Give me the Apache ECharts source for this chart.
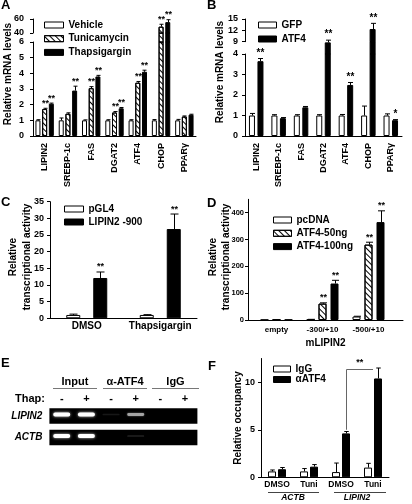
<!DOCTYPE html>
<html><head><meta charset="utf-8">
<script src="https://cdn.jsdelivr.net/npm/echarts@6/dist/echarts.min.js"></script>
<style>html,body{margin:0;padding:0;background:#fff}#c{width:412px;height:504px}</style>
</head><body><div id="c"></div>
<script>
const FONT = '"Liberation Sans", Arial, Helvetica, sans-serif';

// ---------- Panel A data ----------
const aCategories = ['LIPIN2','SREBP-1c','FAS','DGAT2','ATF4','CHOP','PPARγ'];
const aVehicle = [1.0,1.0,1.0,1.0,1.0,1.0,1.0];
const aVehicleErr = [0.04,0.15,0.03,0.04,0.04,0.05,0.06];
const aTunicamycin = [1.72,1.42,3.05,1.5,3.4,49,1.24];
const aTunicamycinErr = [0.05,0.06,0.1,0.06,0.08,3.5,0.04];
const aThapsigargin = [2.06,2.9,3.8,1.77,4.1,55.5,1.36];
const aThapsigarginErr = [0.04,0.28,0.07,0.05,0.1,3.5,0.03];
const aTunicamycinSig = ['**','','**','**','**','**',''];
const aThapsigarginSig = ['**','**','**','**','**','**',''];
const aLowerTicks = [0,1,2,3,4,5,6];
const aUpperTicks = [40,60];

// ---------- Panel B data ----------
const bCategories = ['LIPIN2','SREBP-1c','FAS','DGAT2','ATF4','CHOP','PPARγ'];
const bGFP = [1.0,1.0,1.0,1.0,1.0,1.0,1.0];
const bGFPErr = [0.1,0.04,0.04,0.04,0.05,0.46,0.08];
const bATF4 = [3.65,0.87,1.4,8.73,2.49,12.35,0.77];
const bATF4Err = [0.13,0.03,0.04,0.9,0.12,1.5,0.03];
const bATF4Sig = ['**','','','**','**','**','*'];
const bLowerTicks = [0,1,2,3,4];
const bUpperTicks = [9,12,15];

// ---------- Panel C data ----------
const cCategories = ['DMSO','Thapsigargin'];
const cPGL4 = [1.0,1.0];
const cPGL4Err = [0.25,0.1];
const cLIPIN2 = [12.1,26.8];
const cLIPIN2Err = [1.8,4.5];
const cLIPIN2Sig = ['**','**'];
const cTicks = [0,5,10,15,20,25,30,35];

// ---------- Panel D data ----------
const dCategories = ['empty','-300/+10','-500/+10'];
const dPcDNA = [1,2,13];
const dPcDNAErr = [0,0.5,1];
const dATF4_50 = [1,61,281];
const dATF4_50Err = [0,3,9];
const dATF4_50Sig = ['','**','**'];
const dATF4_100 = [1.5,136,365];
const dATF4_100Err = [0,12,42];
const dATF4_100Sig = ['','**','**'];
const dTicks = [0,100,200,300,400];

// ---------- Panel E data (gel) ----------
const gelGroups = ['Input','α-ATF4','IgG'];
const gelLanes = ['-','+','-','+','-','+'];
const gelRows = ['LIPIN2','ACTB'];
const gelLIPIN2 = [1.0,1.0,0.04,0.55,0,0];
const gelACTB = [1.0,1.0,0,0.06,0,0];

// ---------- Panel F data ----------
const fCategories = ['DMSO','Tuni','DMSO','Tuni'];
const fGroups = ['ACTB','LIPIN2'];
const fIgG = [0.62,0.62,0.55,1.02];
const fIgGErr = [0.15,0.3,0.95,0.45];
const fATF4 = [0.85,1.12,4.62,10.4];
const fATF4Err = [0.18,0.22,0.2,1.1];
const fTicks = [0,5,10];
const fBracket = {from:2, to:3, top:11.4, base:5.0, label:'**'};

// ---------- helpers ----------
const T = (size, extra) => Object.assign({color:'#000', fontFamily:FONT, fontWeight:'bold', fontSize:size}, extra||{});
const option = {animation:false, backgroundColor:'#fff', grid:[], xAxis:[], yAxis:[], series:[], legend:[], graphic:[]};
function push(arr, o){ arr.push(o); return arr.length-1; }
function grid(left, top, width, height){ return push(option.grid, {left, top, width, height, containLabel:false}); }
function yVal(gi, min, max, ticks, margin, fs, extra){
  return push(option.yAxis, Object.assign({type:'value', gridIndex:gi, min, max,
    axisLine:{show:true, onZero:false, lineStyle:{color:'#000', width:1}},
    axisTick:{show:true, length:3, lineStyle:{color:'#000', width:1}, customValues:ticks},
    axisLabel:Object.assign({customValues:ticks, margin}, T(fs)),
    splitLine:{show:false}}, extra||{}));
}
function yHidden(gi, min, max){ return push(option.yAxis, {type:'value', gridIndex:gi, min, max, show:false, splitLine:{show:false}}); }
function xCat(gi, data, line, label, extra){
  return push(option.xAxis, Object.assign({type:'category', gridIndex:gi, data,
    axisLine:{show:line, onZero:false, lineStyle:{color:'#000'}}, axisTick:{show:false},
    axisLabel:Object.assign({interval:0}, label), splitLine:{show:false}}, extra||{}));
}
function xCatHidden(gi, data){ return push(option.xAxis, {type:'category', gridIndex:gi, data, show:false}); }

const WHITE = {color:'#fff', borderColor:'#000', borderWidth:1};
const BLACK = {color:'#000', borderColor:'#000', borderWidth:1};
const HATCH = {color:'#fff', borderColor:'#000', borderWidth:1,
  decal:{symbol:'rect', symbolSize:1, color:'#000', dashArrayX:[1,0], dashArrayY:[1,2.4], rotation:Math.PI/4}};

function errSeries(xi, yi, s, k, n, w, gap, cap, keep, starFs){
  const total = n*w + (n-1)*gap;
  const off = -total/2 + w/2 + k*(w+gap);
  const sig = s.sig;
  return {type:'custom', xAxisIndex:xi, yAxisIndex:yi, silent:true, clip:false, z:5,
    data: s.vals.map((v,i)=>[i, v, s.err[i]]),
    renderItem(params, api){
      const i = api.value(0), v = api.value(1), e = api.value(2);
      if (!keep(v)) return;
      const p = api.coord([i, v]);
      const cx = Math.round(p[0] + off) + 0.5;
      const yTop = api.coord([i, v+e])[1];
      const ch = [];
      if (e > 0) {
        ch.push({type:'line', shape:{x1:cx, y1:p[1], x2:cx, y2:yTop}, style:{stroke:'#000', lineWidth:1}});
        ch.push({type:'line', shape:{x1:cx-cap/2, y1:yTop, x2:cx+cap/2, y2:yTop}, style:{stroke:'#000', lineWidth:1}});
      }
      const st = sig ? sig[params.dataIndex] : '';
      if (st) ch.push({type:'text', x:cx, y:yTop-0.5, style:{text:st, fill:'#000', font:'bold '+starFs+'px '+FONT,
        textAlign:'center', textVerticalAlign:'bottom', align:'center', verticalAlign:'bottom'}});
      return {type:'group', children:ch};
    }};
}
function barPanel(xi, yi, list, w, gap, cap, barKeep, errKeep, starFs, valueX){
  const n = list.length;
  list.forEach((s,k)=>{
    option.series.push({type:'bar', name:s.name, xAxisIndex:xi, yAxisIndex:yi,
      data: s.vals.map((v,i) => { const y = barKeep(v) ? v : '-'; return valueX ? [i, y] : y; }),
      barWidth:w, barGap:(gap/w*100)+'%', itemStyle:s.style, clip:true, silent:true, z:2});
    option.series.push(errSeries(xi, yi, s, k, n, w, gap, cap, errKeep, starFs));
  });
}
function legend(names, left, top, gap, fs, iw, ih){
  option.legend.push({data:names, left, top, orient:'vertical', itemWidth:iw, itemHeight:ih, itemGap:gap,
    padding:0, selectedMode:false, icon:'rect', textStyle:T(fs), itemStyle:{borderColor:'#000', borderWidth:1}});
}
function gText(text, x, y, font, align, valign, rot, extra){
  option.graphic.push({type:'text', x, y, rotation:rot||0, silent:true,
    style:Object.assign({text, font, fill:'#000', textAlign:align, textVerticalAlign:valign, align, verticalAlign:valign}, extra||{})});
}
function gLine(x1, y1, x2, y2, color){
  option.graphic.push({type:'line', silent:true, shape:{x1, y1, x2, y2}, style:{stroke:color||'#000', lineWidth:1}});
}
const all = () => true;

// broken value axis: lower segment, hidden gap segment (lowMax..upMin), upper segment
function brokenPanel(cfg){
  const {L, W, cats, list, lowTop, lowBottom, lowMax, lowTicks, upTop, upBottom, upMin, upMax, upTicks,
         w, gap, cap, starFs, labelMargin} = cfg;
  const g = grid(L, lowTop, W, lowBottom - lowTop);
  const xi = xCat(g, cats, true, Object.assign({rotate:90, margin:7}, T(9)));
  const yi = yVal(g, 0, lowMax, lowTicks, labelMargin, 9);
  barPanel(xi, yi, list, w, gap, cap, all, v => v <= lowMax, starFs);
  const gg = grid(L, upBottom, W, lowTop - upBottom);
  const xg = xCatHidden(gg, cats), yg = yHidden(gg, lowMax, upMin);
  barPanel(xg, yg, list, w, gap, cap, v => v > lowMax, v => v > lowMax && v <= upMin, starFs);
  const gu = grid(L, upTop, W, upBottom - upTop);
  const xu = xCatHidden(gu, cats), yu = yVal(gu, upMin, upMax, upTicks, labelMargin, 9);
  barPanel(xu, yu, list, w, gap, cap, v => v > upMin, v => v > upMin, starFs);
}

// ---------- Panel A ----------
{
  const list = [
    {name:'Vehicle', vals:aVehicle, err:aVehicleErr, sig:null, style:WHITE},
    {name:'Tunicamycin', vals:aTunicamycin, err:aTunicamycinErr, sig:aTunicamycinSig, style:HATCH},
    {name:'Thapsigargin', vals:aThapsigargin, err:aThapsigarginErr, sig:aThapsigarginSig, style:BLACK}];
  brokenPanel({L:33, W:163, cats:aCategories, list, lowTop:42, lowBottom:136, lowMax:6, lowTicks:aLowerTicks,
    upTop:19, upBottom:33, upMin:40, upMax:60, upTicks:aUpperTicks, w:5, gap:1.7, cap:4, starFs:9, labelMargin:9});
  legend(list.map(s=>s.name), 44, 20, 3.7, 10, 19, 6);
  gText('A', 1, -1, 'bold 13px '+FONT, 'left', 'top');
  gText('Relative mRNA levels', 8.5, 74, 'bold 10px '+FONT, 'center', 'middle', Math.PI/2);
}

// ---------- Panel B ----------
{
  const list = [
    {name:'GFP', vals:bGFP, err:bGFPErr, sig:null, style:WHITE},
    {name:'ATF4', vals:bATF4, err:bATF4Err, sig:bATF4Sig, style:BLACK}];
  brokenPanel({L:245, W:157, cats:bCategories, list, lowTop:54, lowBottom:136, lowMax:4, lowTicks:bLowerTicks,
    upTop:19, upBottom:41.7, upMin:9, upMax:15, upTicks:bUpperTicks, w:6, gap:2.5, cap:5, starFs:10, labelMargin:7});
  legend(list.map(s=>s.name), 258, 20, 4, 10, 18, 6);
  gText('B', 207, -1, 'bold 13px '+FONT, 'left', 'top');
  gText('Relative mRNA levels', 220, 72, 'bold 10px '+FONT, 'center', 'middle', Math.PI/2);
}

// ---------- Panel C ----------
{
  const list = [
    {name:'pGL4', vals:cPGL4, err:cPGL4Err, sig:null, style:WHITE},
    {name:'LIPIN2 -900', vals:cLIPIN2, err:cLIPIN2Err, sig:cLIPIN2Sig, style:BLACK}];
  const g = grid(50, 201.7, 147, 116.6);
  const xi = xCat(g, cCategories, true, Object.assign({margin:3}, T(10)));
  const yi = yVal(g, 0, 35, cTicks, 6, 9);
  barPanel(xi, yi, list, 14, 13, 8, all, all, 9);
  legend(list.map(s=>s.name), 64, 204, 3, 10, 19, 6);
  gText('C', 1, 196, 'bold 13px '+FONT, 'left', 'top');
  gText('Relative\ntranscriptional activity', 20, 257, 'bold 10px '+FONT, 'center', 'middle', Math.PI/2, {lineHeight:14});
}

// ---------- Panel D ----------
{
  const list = [
    {name:'pcDNA', vals:dPcDNA, err:dPcDNAErr, sig:null, style:WHITE},
    {name:'ATF4-50ng', vals:dATF4_50, err:dATF4_50Err, sig:dATF4_50Sig, style:HATCH},
    {name:'ATF4-100ng', vals:dATF4_100, err:dATF4_100Err, sig:dATF4_100Sig, style:BLACK}];
  const dPos = dCategories.map((c, i) => i);
  const g = grid(248, 199.3, 155, 120.7);
  const xi = push(option.xAxis, {type:'value', gridIndex:g, min:-0.62, max:2.75,
    axisLine:{show:true, onZero:false, lineStyle:{color:'#000'}}, axisTick:{show:false},
    axisLabel:Object.assign({customValues:dPos, margin:6, formatter:v => dCategories[Math.round(v)]}, T(8)),
    splitLine:{show:false}, name:'mLIPIN2', nameLocation:'middle', nameGap:18, nameTextStyle:T(10)});
  const yi = yVal(g, 0, 450, dTicks, 4, 7.5);
  barPanel(xi, yi, list, 8, 4, 7, all, all, 9, true);
  legend(list.map(s=>s.name), 273, 215, 3.3, 10, 18, 6);
  gText('D', 207, 197, 'bold 13px '+FONT, 'left', 'top');
  gText('Relative\ntranscriptional activity', 219.5, 257, 'bold 10px '+FONT, 'center', 'middle', Math.PI/2, {lineHeight:13});
}

// ---------- Panel E (gel) ----------
{
  const g = grid(49.4, 405.25, 148, 43);
  const xi = push(option.xAxis, {type:'category', gridIndex:g, data:gelLanes, position:'top',
    axisLine:{show:false}, axisTick:{show:false}, axisLabel:Object.assign({interval:0, margin:1}, T(11)), splitLine:{show:false}});
  const yi = push(option.yAxis, {type:'category', gridIndex:g, data:gelRows, inverse:true,
    axisLine:{show:false}, axisTick:{show:false}, axisLabel:Object.assign({margin:7}, T(10, {fontStyle:'italic'})), splitLine:{show:false}});
  option.series.push({type:'custom', xAxisIndex:xi, yAxisIndex:yi, silent:true, z:1,
    data: gelRows.map((r,i)=>[0,i]),
    renderItem(params, api){
      const r = api.value(1);
      const p0 = api.coord([0, r]), p1 = api.coord([gelLanes.length-1, r]);
      const bw = api.size([1, 1]);
      return {type:'rect', shape:{x:p0[0]-bw[0]/2, y:p0[1]-7.8, width:p1[0]-p0[0]+bw[0], height:15.6},
        style:{fill:'#000'}};
    }});
  const bandData = [];
  [gelLIPIN2, gelACTB].forEach((row, r) => row.forEach((a, l) => bandData.push([l, r, a])));
  option.series.push({type:'custom', xAxisIndex:xi, yAxisIndex:yi, silent:true, z:3,
    data: bandData,
    renderItem(params, api){
      const a = api.value(2);
      if (!(a > 0)) return;
      const c = api.coord([api.value(0), api.value(1)]);
      const h = 1.6 + 2.2 * a;
      const gray = Math.round(255 * Math.pow(a, 0.75));
      return {type:'rect', shape:{x:c[0]-8.5, y:c[1]-1.5-h/2, width:17, height:h, r:h/2},
        style:{fill:'rgb('+gray+','+gray+','+gray+')', shadowBlur:2.5*a+0.5, shadowColor:'rgba(255,255,255,'+(0.8*a)+')'}};
    }});
  gText('E', 1, 357, 'bold 13px '+FONT, 'left', 'top');
  gText('Thap:', 45, 399, 'bold 11px '+FONT, 'right', 'middle');
  const groupX = [[53,97],[103,147],[152,199]];
  gelGroups.forEach((name, i) => {
    gText(name, (groupX[i][0]+groupX[i][1])/2, 382, 'bold 11px '+FONT, 'center', 'middle');
    gLine(groupX[i][0], 388.5, groupX[i][1], 388.5, '#777');
  });
}

// ---------- Panel F ----------
{
  const list = [
    {name:'IgG', vals:fIgG, err:fIgGErr, sig:null, style:WHITE},
    {name:'αATF4', vals:fATF4, err:fATF4Err, sig:null, style:BLACK}];
  const g = grid(261, 358.5, 128, 118.8);
  const xi = xCat(g, fCategories, true, Object.assign({margin:3}, T(8.5)));
  push(option.xAxis, {type:'category', gridIndex:g, data:fGroups, position:'bottom', offset:14,
    axisLine:{show:false}, axisTick:{show:false}, axisLabel:Object.assign({interval:0, margin:2}, T(8.5, {fontStyle:'italic'})), splitLine:{show:false}});
  const yi = yVal(g, 0, 12.5, fTicks, 6, 9);
  const w = 8, gap = 2;
  barPanel(xi, yi, list, w, gap, 4.5, all, all, 9);
  const offR = (w + gap) / 2;
  option.series.push({type:'custom', xAxisIndex:xi, yAxisIndex:yi, silent:true, clip:false, z:6,
    data:[[fBracket.from, fBracket.to, fBracket.top, fBracket.base]],
    renderItem(params, api){
      const xL = Math.round(api.coord([api.value(0), 0])[0] + offR) + 0.5;
      const xR = api.coord([api.value(1), 0])[0] + offR - 5;
      const yT = Math.round(api.coord([0, api.value(2)])[1]) + 0.5;
      const yB = api.coord([0, api.value(3)])[1];
      return {type:'group', children:[
        {type:'polyline', shape:{points:[[xL,yB],[xL,yT],[xR,yT]]}, style:{stroke:'#666', lineWidth:1, fill:null}},
        {type:'text', x:(xL+xR)/2, y:yT-2, style:{text:fBracket.label, fill:'#000', font:'bold 9px '+FONT,
          textAlign:'center', textVerticalAlign:'bottom', align:'center', verticalAlign:'bottom'}}]};
    }});
  legend(list.map(s=>s.name), 273, 364, 0.5, 10, 17, 6);
  gText('F', 208, 360, 'bold 13px '+FONT, 'left', 'top');
  gText('Relative occupancy', 238.5, 418, 'bold 10px '+FONT, 'center', 'middle', Math.PI/2);
  gLine(268, 492.5, 319, 492.5, '#444');
  gLine(334, 492.5, 386, 492.5, '#444');
}

const chart = echarts.init(document.getElementById('c'), null, {renderer:'canvas'});
chart.setOption(option);
</script>
</body></html>
